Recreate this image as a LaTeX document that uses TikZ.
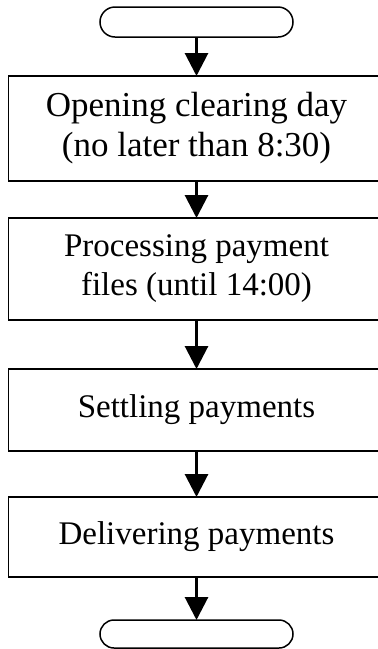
\documentclass[tikz,border=0pt]{standalone}
\usepackage{fontspec}
\setmainfont{Liberation Serif}
\usetikzlibrary{arrows.meta,positioning,shapes.misc}

\begin{document}
\begin{tikzpicture}[x=1pt,y=1pt,
  term/.style={draw,line width=1.5pt,rounded rectangle,minimum width=193pt,inner sep=0pt,outer sep=0pt},
  proc/.style={draw,line width=1.5pt,rectangle,minimum width=376pt,inner sep=0pt,outer sep=0pt,
    align=center,font=\fontsize{33}{39}\selectfont},
  flow/.style={-{Triangle[width=23pt,length=23pt]},line width=3pt}]

\useasboundingbox (0,0) rectangle (378,-649);

\node (start) [term,minimum height=30pt] at (196.5,-22) {};

\node (open)   [proc,minimum height=105pt,below=39pt of start,font=\fontsize{35}{40}\selectfont] {Opening clearing day\\(no later than 8:30)};
\node (proc)   [proc,minimum height=102pt,below=37pt of open] {Processing payment\\files (until 14:00)};
\node (settle) [proc,minimum height=82pt,below=49pt of proc] {Settling payments};
\node (deliv)  [proc,minimum height=80pt,below=46pt of settle] {Delivering payments};

\node (stop) [term,minimum height=28pt,below=43pt of deliv] {};

\draw[flow] (start) -- (open);
\draw[flow] (open) -- (proc);
\draw[flow] (proc) -- (settle);
\draw[flow] (settle) -- (deliv);
\draw[flow] (deliv) -- (stop);

\end{tikzpicture}
\end{document}
